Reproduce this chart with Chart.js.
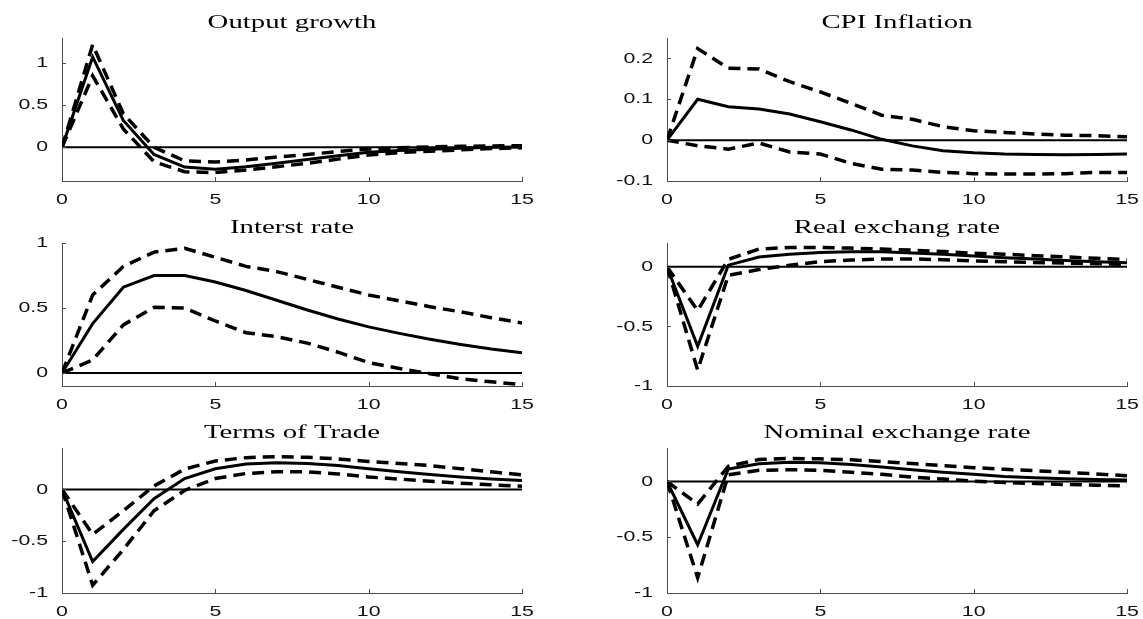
<!DOCTYPE html>
<html>
<head>
<meta charset="utf-8">
<script src="https://cdn.jsdelivr.net/npm/chart.js@4.4.1/dist/chart.umd.min.js"></script>
<style>
  html, body { margin: 0; padding: 0; background: #fff; }
  body { width: 1143px; height: 619px; position: relative; overflow: hidden; }
  .panel { position: absolute; }
  .panel canvas { display: block; }
</style>
</head>
<body>
<div class="panel" style="left:0;top:0"><canvas id="outputChart" width="540" height="206"></canvas></div>
<div class="panel" style="left:605px;top:0"><canvas id="cpiChart" width="538" height="206"></canvas></div>
<div class="panel" style="left:0;top:206px"><canvas id="rateChart" width="540" height="206"></canvas></div>
<div class="panel" style="left:605px;top:206px"><canvas id="rerChart" width="538" height="206"></canvas></div>
<div class="panel" style="left:0;top:412px"><canvas id="totChart" width="540" height="207"></canvas></div>
<div class="panel" style="left:605px;top:412px"><canvas id="nerChart" width="538" height="207"></canvas></div>

<script>
// impulse responses: median (solid) and bands (dashed), horizon 0..15
const steps = [0, 1, 2, 3, 4, 5, 6, 7, 8, 9, 10, 11, 12, 13, 14, 15];

const outputMid = [0, 1.075, 0.32, -0.085, -0.235, -0.26, -0.23, -0.19, -0.145, -0.1, -0.057, -0.038, -0.024, -0.01, 0.0, 0.005];
const outputHi  = [0, 1.22, 0.4, 0.0, -0.16, -0.175, -0.15, -0.115, -0.085, -0.05, -0.02, -0.005, 0.005, 0.012, 0.017, 0.02];
const outputLo  = [0, 0.85, 0.22, -0.17, -0.29, -0.30, -0.27, -0.23, -0.19, -0.14, -0.09, -0.062, -0.045, -0.03, -0.015, -0.005];

const cpiMid = [0, 0.1, 0.082, 0.076, 0.064, 0.045, 0.025, 0.002, -0.014, -0.026, -0.031, -0.034, -0.035, -0.036, -0.035, -0.034];
const cpiHi  = [0, 0.224, 0.176, 0.174, 0.143, 0.118, 0.09, 0.061, 0.051, 0.033, 0.023, 0.019, 0.015, 0.012, 0.011, 0.008];
const cpiLo  = [0, -0.014, -0.022, -0.007, -0.029, -0.034, -0.057, -0.071, -0.073, -0.079, -0.082, -0.083, -0.083, -0.082, -0.079, -0.079];

const rateMid = [0, 0.38, 0.66, 0.75, 0.75, 0.70, 0.635, 0.56, 0.485, 0.415, 0.355, 0.305, 0.26, 0.22, 0.185, 0.156];
const rateHi  = [0, 0.6, 0.82, 0.93, 0.96, 0.89, 0.82, 0.78, 0.72, 0.66, 0.60, 0.555, 0.51, 0.47, 0.425, 0.385];
const rateLo  = [0, 0.1, 0.37, 0.505, 0.50, 0.40, 0.31, 0.28, 0.23, 0.16, 0.08, 0.035, -0.005, -0.045, -0.068, -0.09];

const rerMid = [0, -0.666, 0.014, 0.083, 0.106, 0.12, 0.126, 0.126, 0.117, 0.106, 0.091, 0.077, 0.066, 0.054, 0.043, 0.034];
const rerHi  = [0, -0.366, 0.063, 0.149, 0.163, 0.163, 0.157, 0.149, 0.14, 0.129, 0.114, 0.106, 0.094, 0.083, 0.071, 0.06];
const rerLo  = [0, -0.866, -0.071, -0.023, 0.014, 0.043, 0.057, 0.066, 0.066, 0.06, 0.049, 0.043, 0.037, 0.031, 0.026, 0.02];

const totMid = [0, -0.696, -0.386, -0.09, 0.105, 0.2, 0.245, 0.258, 0.25, 0.23, 0.2, 0.17, 0.145, 0.12, 0.1, 0.085];
const totHi  = [0, -0.435, -0.206, 0.033, 0.196, 0.275, 0.307, 0.317, 0.31, 0.295, 0.27, 0.25, 0.23, 0.2, 0.17, 0.14];
const totLo  = [0, -0.925, -0.58, -0.206, -0.01, 0.105, 0.154, 0.17, 0.17, 0.15, 0.12, 0.1, 0.08, 0.06, 0.045, 0.03];

const nerMid = [0, -0.567, 0.112, 0.158, 0.173, 0.167, 0.152, 0.13, 0.106, 0.082, 0.064, 0.045, 0.033, 0.024, 0.018, 0.012];
const nerHi  = [0, -0.203, 0.136, 0.197, 0.206, 0.203, 0.194, 0.179, 0.161, 0.142, 0.124, 0.109, 0.097, 0.082, 0.067, 0.052];
const nerLo  = [0, -0.864, 0.06, 0.1, 0.106, 0.1, 0.082, 0.064, 0.039, 0.021, 0.003, -0.009, -0.018, -0.027, -0.033, -0.039];

// tick labels
const xTicks = [0, 5, 10, 15];
const outputTicks = [0, 0.5, 1];
const cpiTicks = [-0.1, 0, 0.1, 0.2];
const rateTicks = [0, 0.5, 1];
const rerTicks = [-1, -0.5, 0];
const totTicks = [-1, -0.5, 0];
const nerTicks = [-1, -0.5, 0];

const AXIS_COLOR = "#4d4d4d";

// text drawn wider than the font, like the exported figure
function wideText(ctx, text, x, y, align, sx) {
	ctx.save();
	ctx.translate(x, y);
	ctx.scale(sx, 1);
	ctx.textAlign = align;
	ctx.textBaseline = "middle";
	ctx.fillText(text, 0, 0);
	ctx.restore();
}

// inward ticks, tick labels and the panel title
const figureAxes = {
	id: "figureAxes",
	afterDraw(chart, args, opts) {
		const ctx = chart.ctx;
		const area = chart.chartArea;
		const xs = chart.scales.x;
		const ys = chart.scales.y;
		ctx.save();
		ctx.strokeStyle = AXIS_COLOR;
		ctx.lineWidth = 1;
		ctx.beginPath();
		xs.ticks.forEach(t => {
			const px = Math.round(xs.getPixelForValue(t.value)) + 0.5;
			ctx.moveTo(px, area.bottom);
			ctx.lineTo(px, area.bottom - 4);
		});
		ys.ticks.forEach(t => {
			const py = Math.round(ys.getPixelForValue(t.value)) + 0.5;
			ctx.moveTo(area.left, py);
			ctx.lineTo(area.left + 4, py);
		});
		ctx.stroke();

		ctx.fillStyle = "#111";
		ctx.font = '15px "Liberation Sans"';
		xs.ticks.forEach(t => {
			wideText(ctx, String(t.value), xs.getPixelForValue(t.value), area.bottom + 19, "center", 1.42);
		});
		ys.ticks.forEach(t => {
			wideText(ctx, String(t.value), area.left - 14, ys.getPixelForValue(t.value), "right", 1.42);
		});

		ctx.fillStyle = "#000";
		ctx.font = '18px "Liberation Serif"';
		wideText(ctx, opts.title, (area.left + area.right) / 2, area.top - 15, "center", 1.6);
		ctx.restore();
	},
};

function points(values) {
	return steps.map((s, i) => ({ x: s, y: values[i] }));
}

function makePanel(id, title, mid, hi, lo, yMin, yMax, yTicks, padTop, padRight, xHeight) {
	const ctx = document.getElementById(id);
	return new Chart(ctx, {
		type: "line",
		data: {
			datasets: [
				{ data: points(mid), borderColor: "#000", borderWidth: 3 },
				{ data: points(hi), borderColor: "#000", borderWidth: 3.5, borderDash: [12, 7] },
				{ data: points(lo), borderColor: "#000", borderWidth: 3.5, borderDash: [12, 7] },
				{
					data: [
						{ x: steps[0], y: 0 },
						{ x: steps[steps.length - 1], y: 0 },
					],
					borderColor: "#000",
					borderWidth: 2,
				},
			],
		},
		options: {
			responsive: false,
			animation: false,
			devicePixelRatio: 1,
			layout: {
				padding: { top: padTop, right: padRight, bottom: 0, left: 0 },
			},
			elements: {
				point: { radius: 0 },
				line: { tension: 0, borderCapStyle: "butt", borderJoinStyle: "miter" },
			},
			plugins: {
				legend: { display: false },
				tooltip: { enabled: false },
				figureAxes: { title: title },
			},
			scales: {
				x: {
					type: "linear",
					min: 0,
					max: 15,
					grid: { display: false },
					border: { display: true, color: AXIS_COLOR, width: 1 },
					ticks: { display: false },
					afterBuildTicks: s => {
						s.ticks = xTicks.map(v => ({ value: v }));
					},
					afterFit: s => {
						s.height = xHeight;
						s.paddingLeft = 0;
						s.paddingRight = 0;
					},
				},
				y: {
					type: "linear",
					min: yMin,
					max: yMax,
					grid: { display: false },
					border: { display: true, color: AXIS_COLOR, width: 1 },
					ticks: { display: false },
					afterBuildTicks: s => {
						s.ticks = yTicks.map(v => ({ value: v }));
					},
					afterFit: s => {
						s.width = 62;
						s.paddingTop = 0;
						s.paddingBottom = 0;
					},
				},
			},
		},
		plugins: [figureAxes],
	});
}

makePanel("outputChart", "Output growth", outputMid, outputHi, outputLo, -0.4, 1.3, outputTicks, 38, 18, 25);
makePanel("cpiChart", "CPI Inflation", cpiMid, cpiHi, cpiLo, -0.1, 0.25, cpiTicks, 38, 16, 25);
makePanel("rateChart", "Interst rate", rateMid, rateHi, rateLo, -0.1, 1, rateTicks, 37, 18, 26);
makePanel("rerChart", "Real exchang rate", rerMid, rerHi, rerLo, -1, 0.2, rerTicks, 37, 16, 26);
makePanel("totChart", "Terms of Trade", totMid, totHi, totLo, -1, 0.4, totTicks, 36, 18, 26);
makePanel("nerChart", "Nominal exchange rate", nerMid, nerHi, nerLo, -1, 0.3, nerTicks, 36, 16, 26);
</script>
</body>
</html>
